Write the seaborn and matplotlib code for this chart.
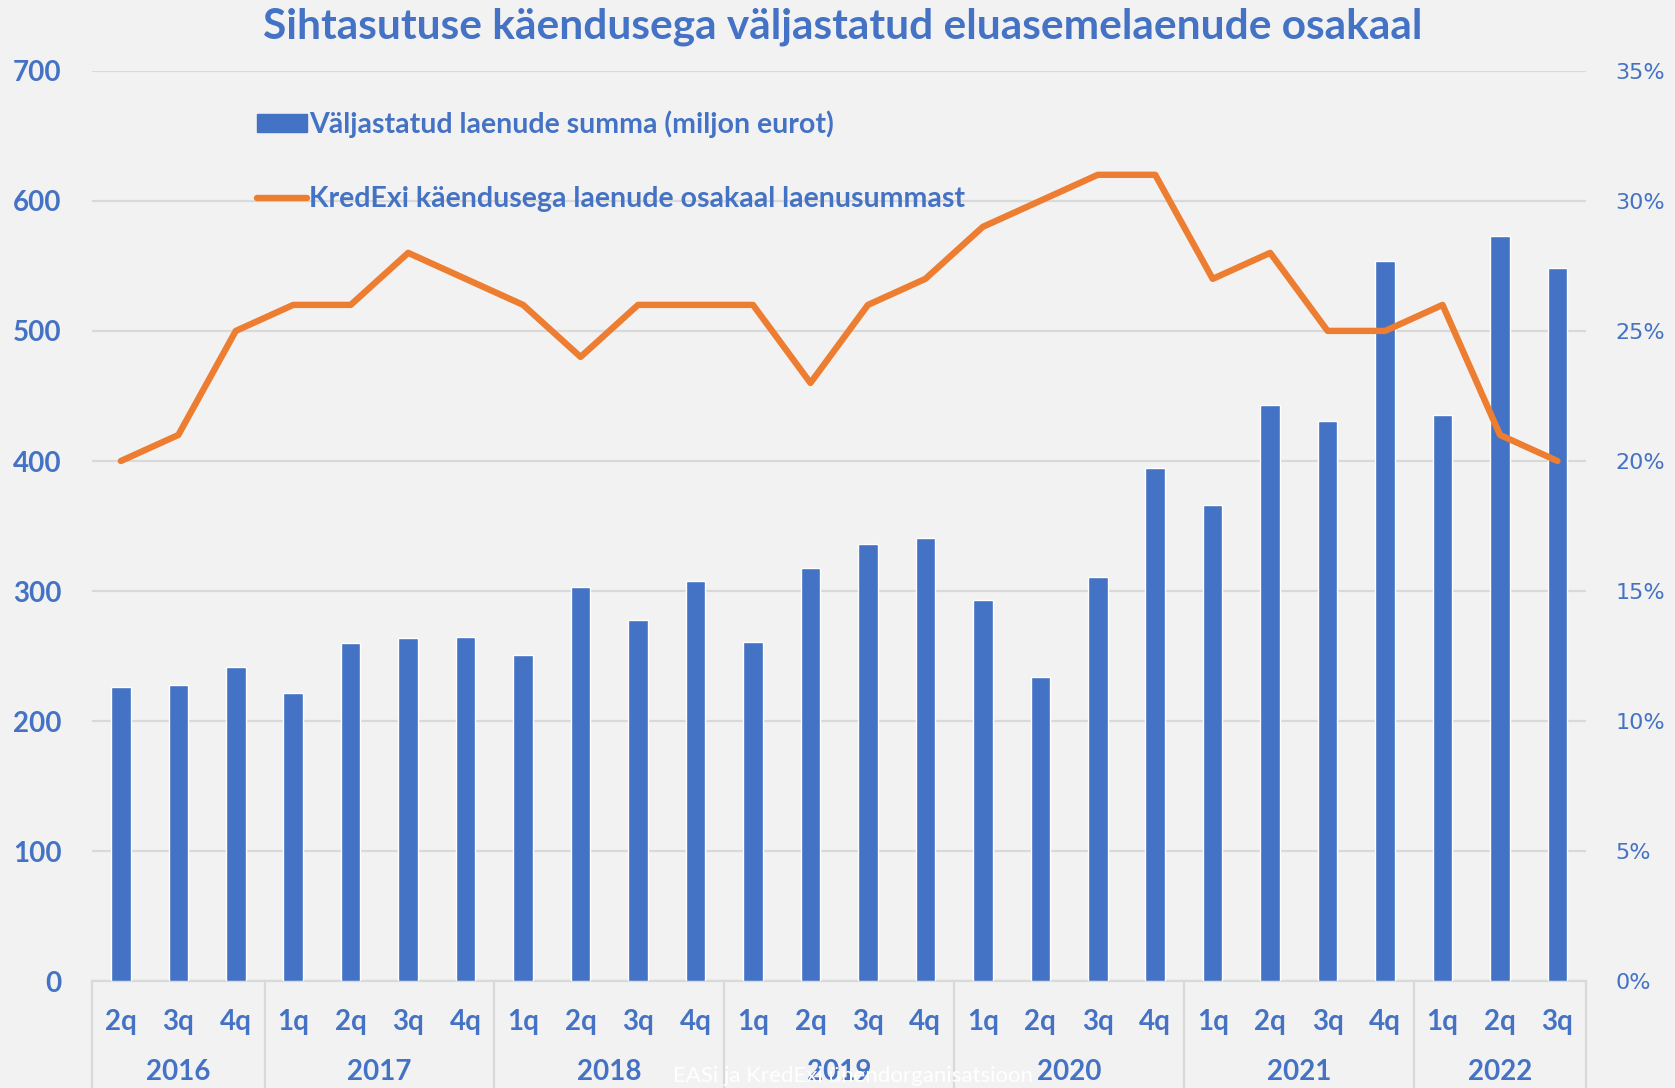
import matplotlib
matplotlib.use('Agg')
import matplotlib.pyplot as plt
import seaborn as sns
import pandas as pd
from matplotlib.patches import Patch
from matplotlib.lines import Line2D

# quarters shown on the chart (2016 2q .. 2022 3q)
years = ['2016', '2017', '2018', '2019', '2020', '2021', '2022']
quarters_per_year = [['2q', '3q', '4q'],
                     ['1q', '2q', '3q', '4q'],
                     ['1q', '2q', '3q', '4q'],
                     ['1q', '2q', '3q', '4q'],
                     ['1q', '2q', '3q', '4q'],
                     ['1q', '2q', '3q', '4q'],
                     ['1q', '2q', '3q']]

# loan sums, million euro
loan_sum = [226, 228, 242,
            222, 260, 264, 265,
            251, 303, 278, 308,
            261, 318, 336, 341,
            293, 234, 311, 395,
            366, 443, 431, 554,
            435, 573, 548]

# share of KredEx guaranteed loans, %
kredex_share = [20, 21, 25,
                26, 26, 28, 27,
                26, 24, 26, 26,
                26, 23, 26, 27,
                29, 30, 31, 31,
                27, 28, 25, 25,
                26, 21, 20]

left_ticks = [0, 100, 200, 300, 400, 500, 600, 700]
right_ticks = [0, 5, 10, 15, 20, 25, 30, 35]

blue = '#4472c4'
orange = '#ed7d31'
bg = '#f2f2f2'
grid = '#d9d9d9'

sns.set_theme(style='white')
plt.rcParams['font.family'] = ['Lato', 'DejaVu Sans']
plt.rcParams['font.weight'] = 'bold'

# build the frame
rows = []
for y, qs in zip(years, quarters_per_year):
    for q in qs:
        rows.append({'year': y, 'quarter': q, 'label': y + ' ' + q})
df = pd.DataFrame(rows)
df['loan_sum'] = loan_sum
df['share'] = kredex_share
df['pos'] = range(len(df))

fig = plt.figure(figsize=(16.75, 10.88), dpi=100, facecolor=bg)
ax = fig.add_axes([0.055, 0.098, 0.892, 0.837])
ax.set_facecolor(bg)

sns.barplot(data=df, x='label', y='loan_sum', color=blue, width=0.34,
            saturation=1, ax=ax, zorder=3)
ax.set_xlim(-0.5, len(df) - 0.5)
ax.set_ylim(0, 700)
ax.set_yticks(left_ticks)
ax.yaxis.grid(True, color=grid, lw=1.6, zorder=0)
ax.set_axisbelow(True)
ax.set_xticks(df['pos'])
ax.set_xticklabels(df['quarter'])
ax.tick_params(axis='x', length=0, pad=20, labelsize=20, labelcolor=blue)
ax.tick_params(axis='y', length=0, pad=22, labelsize=20, labelcolor=blue)
ax.set_xlabel('')
ax.set_ylabel('')
for s in ['top', 'left', 'right']:
    ax.spines[s].set_visible(False)
ax.spines['bottom'].set_color(grid)
ax.spines['bottom'].set_linewidth(1.6)

ax2 = ax.twinx()
sns.lineplot(data=df, x='pos', y='share', color=orange, lw=4.6, ax=ax2,
             solid_capstyle='round')
ax2.set_ylim(0, 35)
ax2.set_yticks(right_ticks)
ax2.set_yticklabels([f'{t}%' for t in right_ticks], family='DejaVu Sans',
                    fontweight='normal')
ax2.tick_params(axis='y', length=0, pad=21, labelsize=16, labelcolor=blue)
ax2.set_ylabel('')
for s in ['top', 'left', 'right', 'bottom']:
    ax2.spines[s].set_visible(False)
ax2.set_xlim(-0.5, len(df) - 0.5)

# year group labels and separators
tr = ax.get_xaxis_transform()
start = 0
bounds = [-0.5]
for y, qs in zip(years, quarters_per_year):
    n = len(qs)
    centre = start + (n - 1) / 2
    ax.text(centre, -0.1, y, transform=tr, ha='center', va='center',
            fontsize=20, color=blue, fontweight='bold')
    start += n
    bounds.append(start - 0.5)
for b in bounds:
    ax.add_line(Line2D([b, b], [0, -0.12], transform=tr, color=grid,
                       lw=1.6, clip_on=False))

# legend
handles = [Patch(color=blue, label='Väljastatud laenude summa (miljon eurot)'),
           Line2D([0], [0], color=orange, lw=4.6,
                  label='KredExi käendusega laenude osakaal laenusummast')]
ax2.legend(handles=handles, loc='upper left', bbox_to_anchor=(0.138, 0.922),
           bbox_transform=fig.transFigure, frameon=False, fontsize=20.5,
           labelcolor=blue, handlelength=1.75, handleheight=0.55,
           handletextpad=0.1, labelspacing=1.7)

fig.text(0.503, 0.975, 'Sihtasutuse käendusega väljastatud eluasemelaenude osakaal',
         ha='center', va='center', fontsize=30.5, color=blue, fontweight='bold')
# faint source note at the bottom
fig.text(0.509, 0.011, 'EASi ja KredExi ühendorganisatsioon', ha='center',
         va='center', fontsize=16, color='white', fontweight='normal')

fig.savefig('out.png', dpi=100, facecolor=bg)
